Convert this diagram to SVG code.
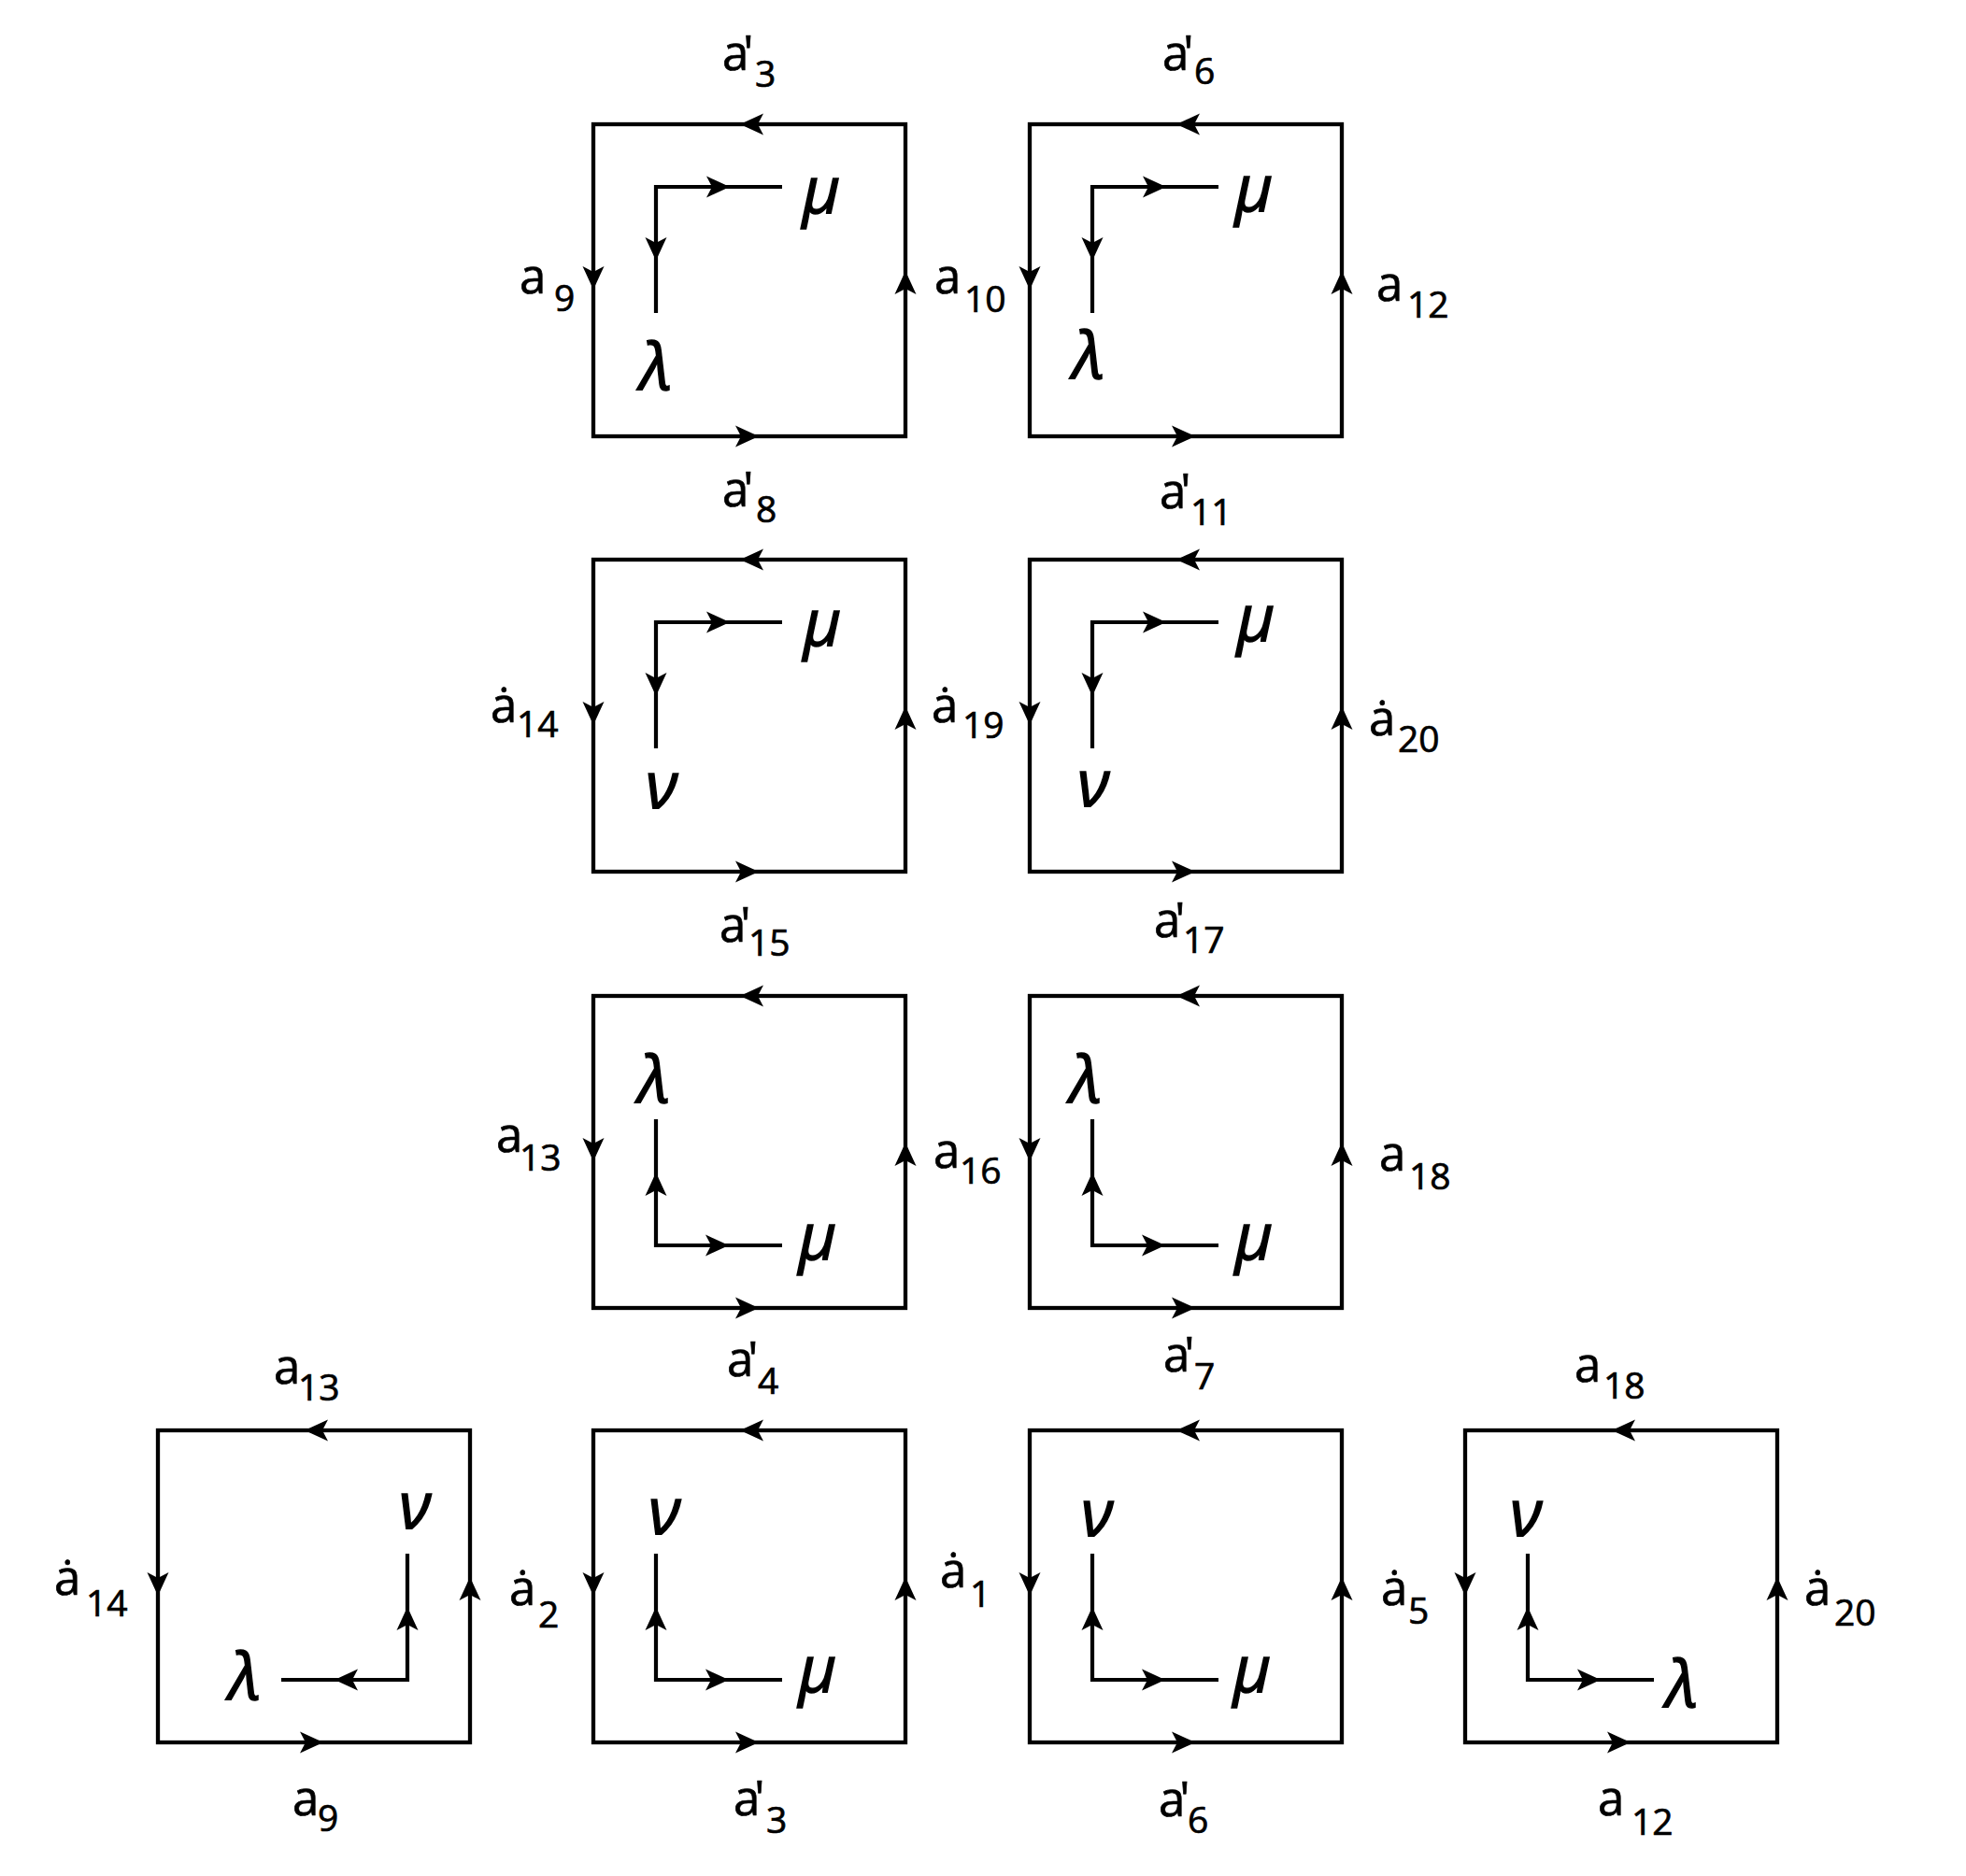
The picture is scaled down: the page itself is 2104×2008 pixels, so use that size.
<svg xmlns="http://www.w3.org/2000/svg" width="2104" height="2008" viewBox="0 0 2104 2008">
<style>
.bx{fill:none;stroke:#000;stroke-width:4.3;stroke-linejoin:miter}
.ln{fill:none;stroke:#000;stroke-width:4.2}
.ah{fill:#000;stroke:none}
.gk{font-family:"Open Sans","DejaVu Sans",sans-serif;font-style:italic;font-size:70px;text-anchor:middle;fill:#000;stroke:#000;stroke-width:1.4}
.lb{font-family:"Open Sans","DejaVu Sans",sans-serif;font-size:51px;fill:#000;stroke:#000;stroke-width:0.7}
.m{letter-spacing:-4px}
.p{letter-spacing:-6px}
.sb{font-size:39px;letter-spacing:0}
</style>
<defs>
<path id="ah" class="ah" d="M0,0 L-25,-11.5 L-19,0 L-25,11.5 Z"/>
<g id="frame">
<rect class="bx" x="0" y="0" width="334" height="334"/>
<use href="#ah" transform="translate(157,0) rotate(180)"/>
<use href="#ah" transform="translate(177,334)"/>
<use href="#ah" transform="translate(0,177) rotate(90)"/>
<use href="#ah" transform="translate(334,157) rotate(-90)"/>
</g>
<g id="LA">
<path class="ln" d="M202,67 H67 V202"/>
<use href="#ah" transform="translate(146,67)"/>
<use href="#ah" transform="translate(67,146) rotate(90)"/>
</g>
<g id="LB">
<path class="ln" d="M67,132 V267 H202"/>
<use href="#ah" transform="translate(67,189) rotate(-90)"/>
<use href="#ah" transform="translate(145,267)"/>
</g>
<g id="LC">
<path class="ln" d="M267,132 V267 H132"/>
<use href="#ah" transform="translate(267,189) rotate(-90)"/>
<use href="#ah" transform="translate(189,267) rotate(180)"/>
</g>
</defs>
<rect width="2104" height="2008" fill="#fff"/>

<g id="sq-r1c2" transform="translate(635,133)">
<use href="#frame"/><use href="#LA"/>
<text class="gk" x="244" y="95">μ</text><text class="gk" x="67" y="284">λ</text>
</g>
<g id="sq-r1c3" transform="translate(1102,133)">
<use href="#frame"/><use href="#LA"/>
<text class="gk" x="240" y="93">μ</text><text class="gk" x="63" y="272">λ</text>
</g>
<g id="sq-r2c2" transform="translate(635,599)">
<use href="#frame"/><use href="#LA"/>
<text class="gk" x="245" y="92">μ</text><text class="gk" x="73" y="266">ν</text>
</g>
<g id="sq-r2c3" transform="translate(1102,599)">
<use href="#frame"/><use href="#LA"/>
<text class="gk" x="242" y="87">μ</text><text class="gk" x="68" y="264">ν</text>
</g>
<g id="sq-r3c2" transform="translate(635,1066)">
<use href="#frame"/><use href="#LB"/>
<text class="gk" x="65" y="114">λ</text><text class="gk" x="240" y="282">μ</text>
</g>
<g id="sq-r3c3" transform="translate(1102,1066)">
<use href="#frame"/><use href="#LB"/>
<text class="gk" x="60" y="114">λ</text><text class="gk" x="240" y="282">μ</text>
</g>
<g id="sq-r4c1" transform="translate(169,1531)">
<use href="#frame"/><use href="#LC"/>
<text class="gk" x="275" y="105">ν</text><text class="gk" x="93" y="288">λ</text>
</g>
<g id="sq-r4c2" transform="translate(635,1531)">
<use href="#frame"/><use href="#LB"/>
<text class="gk" x="76" y="111">ν</text><text class="gk" x="240" y="280">μ</text>
</g>
<g id="sq-r4c3" transform="translate(1102,1531)">
<use href="#frame"/><use href="#LB"/>
<text class="gk" x="72" y="113">ν</text><text class="gk" x="238" y="280">μ</text>
</g>
<g id="sq-r4c4" transform="translate(1568,1531)">
<use href="#frame"/><use href="#LB"/>
<text class="gk" x="65" y="113">ν</text><text class="gk" x="232" y="296">λ</text>
</g>

<g id="connectors"></g>

<g id="labels">
<text class="lb"><tspan class="p" x="773" y="75">a'</tspan><tspan class="sb" x="808" y="93">3</tspan></text>
<text class="lb"><tspan class="p" x="1244" y="75">a'</tspan><tspan class="sb" x="1278" y="90">6</tspan></text>
<text class="lb"><tspan class="m" x="556" y="314">a</tspan><tspan class="sb" x="593" y="333">9</tspan></text>
<text class="lb"><tspan class="m" x="1000" y="314">a</tspan><tspan class="sb" x="1032" y="334">10</tspan></text>
<text class="lb"><tspan class="m" x="1473" y="322">a</tspan><tspan class="sb" x="1506" y="340">12</tspan></text>
<text class="lb"><tspan class="p" x="773" y="542">a'</tspan><tspan class="sb" x="809" y="559">8</tspan></text>
<text class="lb"><tspan class="p" x="1241" y="544">a'</tspan><tspan class="sb" x="1274" y="562">11</tspan></text>
<text class="lb"><tspan class="m" x="525" y="773">ȧ</tspan><tspan class="sb" x="553" y="789">14</tspan></text>
<text class="lb"><tspan class="m" x="997" y="773">ȧ</tspan><tspan class="sb" x="1030" y="790">19</tspan></text>
<text class="lb"><tspan class="m" x="1465" y="787">ȧ</tspan><tspan class="sb" x="1496" y="805">20</tspan></text>
<text class="lb"><tspan class="p" x="770" y="1008">a'</tspan><tspan class="sb" x="801" y="1023">15</tspan></text>
<text class="lb"><tspan class="p" x="1235" y="1003">a'</tspan><tspan class="sb" x="1266" y="1020">17</tspan></text>
<text class="lb"><tspan class="m" x="531" y="1233">a</tspan><tspan class="sb" x="556" y="1253">13</tspan></text>
<text class="lb"><tspan class="m" x="999" y="1250">a</tspan><tspan class="sb" x="1027" y="1267">16</tspan></text>
<text class="lb"><tspan class="m" x="1476" y="1253">a</tspan><tspan class="sb" x="1508" y="1273">18</tspan></text>
<text class="lb"><tspan class="p" x="778" y="1473">a'</tspan><tspan class="sb" x="811" y="1492">4</tspan></text>
<text class="lb"><tspan class="p" x="1245" y="1468">a'</tspan><tspan class="sb" x="1278" y="1487">7</tspan></text>
<text class="lb"><tspan class="m" x="293" y="1481">a</tspan><tspan class="sb" x="319" y="1499">13</tspan></text>
<text class="lb"><tspan class="m" x="1685" y="1479">a</tspan><tspan class="sb" x="1716" y="1497">18</tspan></text>
<text class="lb"><tspan class="m" x="58" y="1707">ȧ</tspan><tspan class="sb" x="92" y="1730">14</tspan></text>
<text class="lb"><tspan class="m" x="545" y="1718">ȧ</tspan><tspan class="sb" x="576" y="1742">2</tspan></text>
<text class="lb"><tspan class="m" x="1006" y="1699">ȧ</tspan><tspan class="sb" x="1038" y="1720">1</tspan></text>
<text class="lb"><tspan class="m" x="1478" y="1718">ȧ</tspan><tspan class="sb" x="1507" y="1738">5</tspan></text>
<text class="lb"><tspan class="m" x="1931" y="1718">ȧ</tspan><tspan class="sb" x="1963" y="1740">20</tspan></text>
<text class="lb"><tspan class="m" x="313" y="1943">a</tspan><tspan class="sb" x="340" y="1960">9</tspan></text>
<text class="lb"><tspan class="p" x="785" y="1943">a'</tspan><tspan class="sb" x="820" y="1962">3</tspan></text>
<text class="lb"><tspan class="p" x="1240" y="1944">a'</tspan><tspan class="sb" x="1271" y="1962">6</tspan></text>
<text class="lb"><tspan class="m" x="1710" y="1943">a</tspan><tspan class="sb" x="1746" y="1964">12</tspan></text>
</g>
</svg>
